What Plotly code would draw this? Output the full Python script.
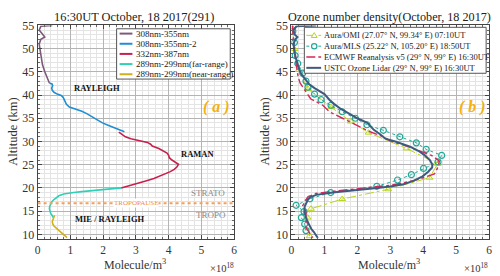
import plotly.graph_objects as go

W, H = 500, 276
SERIF = "Liberation Serif, Times New Roman, serif"

# ---------------- Left panel: lidar channels ----------------
ch1_alt = [55.0, 54.8, 54.0, 53.2, 52.5, 52.0, 51.0, 50.0, 48.0, 46.5, 45.0, 44.0, 43.0, 42.6]
ch1_val = [0.45, 0.10, 0.05, 0.15, 0.22, 0.10, 0.05, 0.07, 0.12, 0.15, 0.22, 0.28, 0.33, 0.36]

ch2_alt = [42.6, 42.4, 42.0, 41.5, 41.0, 40.6, 40.2, 39.9, 39.5, 38.8, 38.0, 37.4, 37.0, 36.5,
           36.0, 35.5, 35.0, 34.5, 34.0, 33.5, 33.0, 32.5, 32.1]
ch2_val = [0.36, 0.44, 0.46, 0.43, 0.45, 0.50, 0.60, 0.72, 0.78, 0.82, 0.88, 0.97, 1.15, 1.35,
           1.50, 1.62, 1.72, 1.85, 1.98, 2.15, 2.35, 2.50, 2.65]

ch3_alt = [32.0, 31.5, 31.0, 30.6, 30.2, 29.8, 29.4, 29.0, 28.5, 28.0, 27.5, 27.0, 26.5, 26.0,
           25.5, 25.1, 24.5, 24.0, 23.5, 23.0, 22.5, 22.0, 21.5, 21.0, 20.5, 20.0]
ch3_val = [2.48, 2.58, 2.68, 2.85, 3.10, 3.35, 3.45, 3.50, 3.70, 3.85, 3.95, 4.00, 4.02, 4.10,
           4.22, 4.30, 4.25, 4.17, 4.05, 3.90, 3.75, 3.55, 3.30, 3.05, 2.80, 2.55]

ch4_alt = [20.0, 19.8, 19.5, 19.2, 19.0, 18.7, 18.3, 18.0, 17.5, 17.0, 16.5, 16.0, 15.5, 15.0,
           14.5, 14.0, 13.6]
ch4_val = [2.55, 2.20, 1.75, 1.35, 1.10, 0.80, 0.65, 0.58, 0.50, 0.43, 0.39, 0.37, 0.36, 0.37,
           0.40, 0.45, 0.48]

ch5_alt = [14.1, 13.8, 13.3, 12.8, 12.3, 11.8, 11.3, 10.8, 10.3, 9.8, 9.3]
ch5_val = [0.52, 0.50, 0.47, 0.45, 0.46, 0.50, 0.58, 0.66, 0.75, 0.82, 0.90]

left_names = ["308nm-355nm", "308nm-355nm-2", "332nm-387nm",
              "289nm-299nm(far-range)", "289nm-299nm(near-range)"]
left_colors = ["#7d5a7a", "#1f8fd2", "#c8204e", "#2fd0b6", "#d2b01c"]

tropopause_km = 16.7

# ---------------- Right panel: ozone comparison ----------------
omi_alt = [54.4, 49.9, 45.4, 41.3, 37.4, 34.3, 31.9, 28.5, 25.2, 22.2, 19.7, 17.6, 15.5, 13.6, 11.5, 9.6]
omi_val = [0.03, 0.09, 0.22, 0.50, 1.20, 1.80, 2.34, 3.49, 4.44, 4.19, 2.94, 1.54, 0.59, 0.49, 0.50, 0.55]

mls_alt = [53.75, 51.3, 48.5, 46.8, 44.7, 43.0, 41.7, 40.2, 39.0, 37.8, 36.4, 35.0, 33.6, 32.4,
           31.0, 29.7, 28.3, 27.0, 25.6, 24.2, 22.85, 21.7, 20.35, 19.0, 17.65, 16.25, 14.9,
           13.6, 12.2, 10.8]
mls_val = [0.04, 0.09, 0.11, 0.19, 0.34, 0.44, 0.50, 0.70, 0.90, 1.20, 1.54, 1.94, 2.29, 2.79,
           3.29, 3.79, 4.09, 4.56, 4.45, 4.01, 3.64, 3.22, 2.59, 1.19, 0.56, 0.14, 0.38,
           0.30, 0.40, 0.44]

era_alt = [55.0, 53.0, 51.0, 49.0, 47.0, 45.0, 44.0, 42.6, 41.0, 39.2, 37.8, 36.4, 35.0, 34.0,
           33.0, 32.2, 31.0, 30.1, 29.0, 28.0, 27.0, 25.8, 24.5, 23.0, 21.6, 20.6, 19.9, 19.3,
           18.8, 18.0, 17.3, 16.7, 16.2, 14.9, 13.0, 11.4, 10.3, 9.3]
era_val = [0.03, 0.04, 0.06, 0.09, 0.14, 0.18, 0.20, 0.26, 0.40, 0.58, 0.95, 1.15, 1.55, 1.85,
           2.15, 2.35, 2.80, 3.00, 3.50, 3.90, 4.25, 4.49, 4.45, 4.34, 3.74, 3.04, 2.04, 1.30,
           0.74, 0.50, 0.42, 0.39, 0.34, 0.44, 0.44, 0.44, 0.55, 0.64]

ustc_alt = [55.0, 54.8, 54.0, 53.0, 52.5, 52.0, 51.0, 50.0, 49.0, 48.0, 47.0, 46.0, 45.4, 44.5,
            43.5, 42.3, 41.5, 40.8, 40.2, 39.0, 38.1, 37.0, 36.0, 35.0, 34.0, 33.0, 32.5, 31.5,
            30.6, 30.0, 29.5, 28.9, 28.0, 27.0, 26.0, 25.0, 24.4, 23.5, 22.5, 21.5, 20.8, 20.3,
            20.0, 19.7, 19.4, 19.0, 18.5, 18.0, 17.5, 16.7, 16.0, 15.0, 14.0, 13.3, 12.3, 11.2,
            10.5, 9.8, 9.2]
ustc_val = [0.75, 0.15, 0.06, 0.10, 0.18, 0.12, 0.06, 0.07, 0.10, 0.13, 0.17, 0.20, 0.24, 0.30,
            0.40, 0.54, 0.70, 0.85, 1.00, 1.15, 1.29, 1.50, 1.74, 2.00, 2.30, 2.42, 2.50, 2.70,
            2.85, 3.15, 3.35, 3.60, 3.85, 4.05, 4.20, 4.28, 4.27, 4.15, 3.98, 3.70, 3.40, 3.00,
            2.60, 2.20, 1.70, 1.25, 0.75, 0.58, 0.50, 0.44, 0.40, 0.39, 0.42, 0.45, 0.52, 0.60,
            0.68, 0.74, 0.80]

right_names = ["Aura/OMI (27.07° N, 99.34° E) 07:10UT",
               "Aura/MLS (25.22° N, 105.20° E) 18:50UT",
               "ECMWF Reanalysis v5 (29° N, 99° E) 16:30UT",
               "USTC Ozone Lidar (29° N, 99° E) 16:30UT"]
right_colors = ["#b9d41c", "#22a898", "#d6285a", "#3d5b7e"]

x_ticks = [0, 1, 2, 3, 4, 5, 6]
y_ticks = [10, 15, 20, 25, 30, 35, 40, 45, 50, 55]


def px(x):
    return x / W


def py(y):
    return 1 - y / H


def note(x, y, text, size, color="#222", ref="paper", xanchor="center", **kw):
    d = dict(xref=ref if ref == "paper" else ref[0], yref=ref if ref == "paper" else ref[1],
             x=x, y=y, text=text, showarrow=False, xanchor=xanchor, yanchor="middle",
             font=dict(family=SERIF, size=size, color=color))
    d.update(kw)
    return d


fig = go.Figure()

left_series = [(ch1_alt, ch1_val), (ch2_alt, ch2_val), (ch3_alt, ch3_val),
               (ch4_alt, ch4_val), (ch5_alt, ch5_val)]
for (alt, val), name, col in zip(left_series, left_names, left_colors):
    fig.add_trace(go.Scatter(x=val, y=alt, mode="lines", name=name,
                             line=dict(color=col, width=1.6), showlegend=False,
                             xaxis="x", yaxis="y"))

fig.add_trace(go.Scatter(x=omi_val, y=omi_alt, mode="lines+markers", name=right_names[0],
                         line=dict(color=right_colors[0], width=1, dash="dashdot"),
                         marker=dict(symbol="triangle-up-open", size=6, color=right_colors[0],
                                     line=dict(width=1)),
                         showlegend=False, xaxis="x2", yaxis="y2"))
fig.add_trace(go.Scatter(x=mls_val, y=mls_alt, mode="lines+markers", name=right_names[1],
                         line=dict(color=right_colors[1], width=1, dash="dot"),
                         marker=dict(symbol="circle-open", size=6, color=right_colors[1],
                                     line=dict(width=1.2)),
                         showlegend=False, xaxis="x2", yaxis="y2"))
fig.add_trace(go.Scatter(x=era_val, y=era_alt, mode="lines", name=right_names[2],
                         line=dict(color=right_colors[2], width=1.4, dash="dashdot"),
                         showlegend=False, xaxis="x2", yaxis="y2"))
fig.add_trace(go.Scatter(x=ustc_val, y=ustc_alt, mode="lines", name=right_names[3],
                         line=dict(color=right_colors[3], width=2),
                         showlegend=False, xaxis="x2", yaxis="y2"))

ydom = [py(239.8), py(19)]


def xaxis(domain, anchor):
    return dict(domain=domain, anchor=anchor, range=[0, 6], tickvals=x_ticks,
                ticks="inside", ticklen=4, tickcolor="#444", mirror="allticks",
                showline=True, linecolor="#444", linewidth=1,
                showgrid=True, gridcolor="#b4b4b4", gridwidth=1,
                minor=dict(dtick=0.2, showgrid=True, gridcolor="#e4e4e4",
                           ticks="inside", ticklen=2, tickcolor="#666"),
                tickfont=dict(family=SERIF, size=11.5, color="#333"), zeroline=False)


def yaxis(anchor):
    return dict(domain=ydom, anchor=anchor, range=[9, 55], tickvals=y_ticks,
                ticks="inside", ticklen=4, tickcolor="#444", mirror="allticks",
                showline=True, linecolor="#444", linewidth=1,
                showgrid=True, gridcolor="#b4b4b4", gridwidth=1,
                minor=dict(dtick=1, showgrid=True, gridcolor="#e4e4e4",
                           ticks="inside", ticklen=2, tickcolor="#666"),
                tickfont=dict(family=SERIF, size=12, color="#333"), zeroline=False)


fig.update_layout(
    width=W, height=H, margin=dict(l=0, r=0, t=0, b=0),
    paper_bgcolor="white", plot_bgcolor="white", showlegend=False,
    xaxis=xaxis([px(35), px(234)], "y"),
    yaxis=yaxis("x"),
    xaxis2=xaxis([px(292), px(492)], "y2"),
    yaxis2=yaxis("x2"),
)

shapes = []
annos = []

# Tropopause line
shapes.append(dict(type="line", xref="x", yref="y", x0=0, x1=6, y0=tropopause_km, y1=tropopause_km,
                   line=dict(color="#f5a05a", width=2, dash="dot"), layer="above"))
annos.append(note(3.0, tropopause_km, "TROPOPAUSE", 7, "#f08a48", ref=("x", "y"),
                  bgcolor="white", borderpad=0))

# Region labels
for txt, xx, yy in [("RAYLEIGH", 1.82, 41.5), ("RAMAN", 4.88, 27.4), ("MIE / RAYLEIGH", 2.22, 13.4)]:
    annos.append(note(xx, yy, "<b>" + txt + "</b>", 8.5, "#111", ref=("x", "y")))
for txt, xx, yy in [("STRATO", 5.2, 19.0), ("TROPO", 5.28, 14.2)]:
    annos.append(note(xx, yy, txt, 9, "#8a8a8a", ref=("x", "y")))

annos.append(note(5.47, 37.4, "<b><i>( a )</i></b>", 16, "#f5b00c", ref=("x", "y")))
annos.append(note(5.51, 37.4, "<b><i>( b )</i></b>", 16, "#f5b00c", ref=("x2", "y2")))

# Titles
annos.append(note(px(133), py(10.5), "16:30UT October, 18 2017(291)", 12.4))
annos.append(note(px(391), py(10.5), "Ozone number density(October, 18 2017)", 12.2))

# Axis titles
for cx in (134, 391):
    annos.append(note(px(cx), py(266), "Molecule/m<sup>3</sup>", 12, "#333", borderpad=0))
for cx in (222, 479):
    annos.append(note(px(cx), py(269.5), "×10<sup>18</sup>", 10.5, "#333", borderpad=0))
for cx in (10, 265):
    annos.append(note(px(cx), py(129), "Altitude (km)", 12.5, "#333", textangle=-90))

# Left legend (manual, compact)
shapes.append(dict(type="rect", xref="paper", yref="paper", x0=px(115), x1=px(230), y0=py(74.5), y1=py(22.5),
                   line=dict(color="#555", width=1), fillcolor="white", layer="above"))
for i, (name, col) in enumerate(zip(left_names, left_colors)):
    yy = 27.5 + i * 10.5
    shapes.append(dict(type="line", xref="paper", yref="paper", x0=px(118), x1=px(131), y0=py(yy), y1=py(yy),
                       line=dict(color=col, width=2), layer="above"))
    annos.append(note(px(132.5), py(yy), name, 9, xanchor="left"))

# Right legend (manual, compact)
shapes.append(dict(type="rect", xref="paper", yref="paper", x0=px(305), x1=px(489), y0=py(68.5), y1=py(21),
                   line=dict(color="#555", width=1), fillcolor="white", layer="above"))
dashes = ["dashdot", "dot", "dashdot", "solid"]
widths = [1, 1, 1.4, 2]
for i, (name, col) in enumerate(zip(right_names, right_colors)):
    yy = 29.3 + i * 11.2
    shapes.append(dict(type="line", xref="paper", yref="paper", x0=px(307), x1=px(322), y0=py(yy), y1=py(yy),
                       line=dict(color=col, width=widths[i], dash=dashes[i]), layer="above"))
    annos.append(note(px(323), py(yy), name, 8.5, xanchor="left"))
# legend markers
shapes.append(dict(type="path", xref="paper", yref="paper", layer="above",
                   path=f"M {px(312)} {py(31.5)} L {px(318)} {py(31.5)} L {px(315)} {py(26.5)} Z",
                   line=dict(color=right_colors[0], width=1), fillcolor="white"))
shapes.append(dict(type="circle", xref="paper", yref="paper", layer="above",
                   x0=px(312.3), x1=px(317.7), y0=py(40.5 + 2.7), y1=py(40.5 - 2.7),
                   line=dict(color=right_colors[1], width=1.2), fillcolor="white"))

fig.update_layout(shapes=shapes, annotations=annos)
fig.write_html("out.html", config={"displayModeBar": False},
               post_script="document.body.style.margin='0';")
